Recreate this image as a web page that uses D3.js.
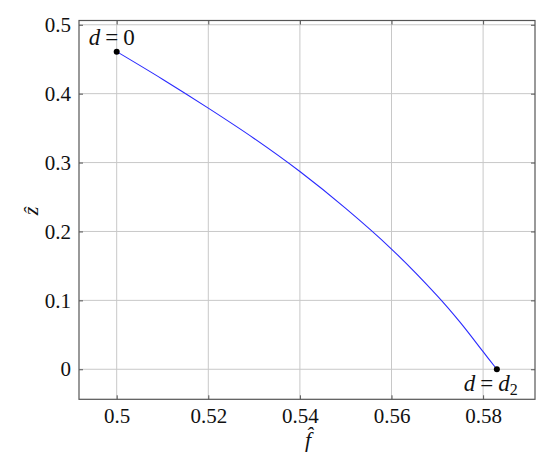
<!DOCTYPE html>
<html lang="en">
<head>
  <meta charset="UTF-8" />
  <title>f-hat vs z-hat</title>
  <style>
    html, body { margin: 0; background: #fff; }
    svg text { fill: #111; }
    .grid line { stroke: #c8c8c8; stroke-width: 1; }
    .frame { fill: none; stroke: #555; stroke-width: 1.2; }
    .curve { fill: none; stroke: #2a2aff; stroke-width: 1.1; }
  </style>
  <script src="https://d3js.org/d3.v7.min.js"></script>
</head>
<body>
  <svg id="chart" width="550" height="476"></svg>
  <script>
    // data
    const fHat = [0.5, 0.51, 0.52, 0.53, 0.54, 0.55, 0.56, 0.57, 0.575, 0.58, 0.583];
    const zHat = [0.461, 0.421, 0.379, 0.335, 0.287, 0.2335, 0.1745, 0.1065, 0.068, 0.0255, 0.0];
    const xTicks = [0.5, 0.52, 0.54, 0.56, 0.58];
    const yTicks = [0, 0.1, 0.2, 0.3, 0.4, 0.5];

    const svg = d3.select("#chart");
    const plotL = 79, plotR = 535, plotT = 20.5, plotB = 399.3;
    const serif = "'Times New Roman', 'Liberation Serif', Tinos, 'DejaVu Serif', 'Noto Serif', Times, serif";

    const x = d3.scaleLinear().domain([0.49177, 0.59133]).range([plotL, plotR]);
    const y = d3.scaleLinear().domain([-0.0436, 0.5062]).range([plotB, plotT]);

    // grid
    const grid = svg.append("g").attr("class", "grid");
    grid.selectAll(".gx").data(xTicks).enter().append("line")
      .attr("x1", d => x(d)).attr("x2", d => x(d))
      .attr("y1", plotT).attr("y2", plotB);
    grid.selectAll(".gy").data(yTicks).enter().append("line")
      .attr("y1", d => y(d)).attr("y2", d => y(d))
      .attr("x1", plotL).attr("x2", plotR);

    // axes (ticks inward, labels outside)
    const fmt = d => d === 0 ? "0" : String(d);
    const xAxis = svg.append("g").attr("transform", `translate(0,${plotB})`)
      .call(d3.axisBottom(x).tickValues(xTicks).tickSize(-4).tickPadding(9).tickFormat(fmt));
    const yAxis = svg.append("g").attr("transform", `translate(${plotL},0)`)
      .call(d3.axisLeft(y).tickValues(yTicks).tickSize(-4).tickPadding(8).tickFormat(fmt));
    [xAxis, yAxis].forEach(a => {
      a.attr("font-family", serif).attr("font-size", 21);
      a.select(".domain").remove();
      a.selectAll(".tick line").attr("stroke", "#555");
      a.selectAll(".tick text").attr("fill", "#111");
    });
    // mirrored ticks on top and right
    svg.append("g").attr("transform", `translate(0,${plotT})`)
      .call(d3.axisTop(x).tickValues(xTicks).tickSize(-4).tickFormat(""))
      .call(g => { g.select(".domain").remove(); g.selectAll("line").attr("stroke", "#555"); });
    svg.append("g").attr("transform", `translate(${plotR},0)`)
      .call(d3.axisRight(y).tickValues(yTicks).tickSize(-4).tickFormat(""))
      .call(g => { g.select(".domain").remove(); g.selectAll("line").attr("stroke", "#555"); });

    svg.append("rect").attr("class", "frame")
      .attr("x", plotL).attr("y", plotT).attr("width", plotR - plotL).attr("height", plotB - plotT);

    // curve
    const pts = fHat.map((f, i) => [f, zHat[i]]);
    svg.append("path").datum(pts).attr("class", "curve")
      .attr("d", d3.line().x(d => x(d[0])).y(d => y(d[1])).curve(d3.curveCatmullRom));

    const ends = [pts[0], pts[pts.length - 1]];
    svg.selectAll(".end").data(ends).enter().append("circle")
      .attr("cx", d => x(d[0])).attr("cy", d => y(d[1])).attr("r", 3).attr("fill", "#000");

    // end labels (math-style spacing around "=")
    const t0 = svg.append("text").attr("x", x(ends[0][0]) - 28).attr("y", y(ends[0][1]) - 7)
      .attr("font-family", serif).attr("font-size", 23);
    t0.append("tspan").attr("font-style", "italic").text("d");
    t0.append("tspan").attr("dx", 5).text("=");
    t0.append("tspan").attr("dx", 5).text("0");

    const t1 = svg.append("text").attr("x", x(ends[1][0]) - 33).attr("y", y(ends[1][1]) + 22)
      .attr("font-family", serif).attr("font-size", 23);
    t1.append("tspan").attr("font-style", "italic").text("d");
    t1.append("tspan").attr("dx", 5).text("=");
    t1.append("tspan").attr("dx", 5).attr("font-style", "italic").text("d");
    t1.append("tspan").attr("font-size", 16).attr("dy", 4).text("2");

    // axis titles
    svg.append("text").attr("x", 308).attr("y", 447)
      .attr("text-anchor", "middle").attr("font-family", serif).attr("font-size", 22)
      .attr("font-style", "italic").text("f\u0302");
    svg.append("text").attr("transform", `translate(38,211) rotate(-90)`)
      .attr("text-anchor", "middle").attr("font-family", serif).attr("font-size", 22)
      .attr("font-style", "italic").text("\u1E91");
  </script>
</body>
</html>
